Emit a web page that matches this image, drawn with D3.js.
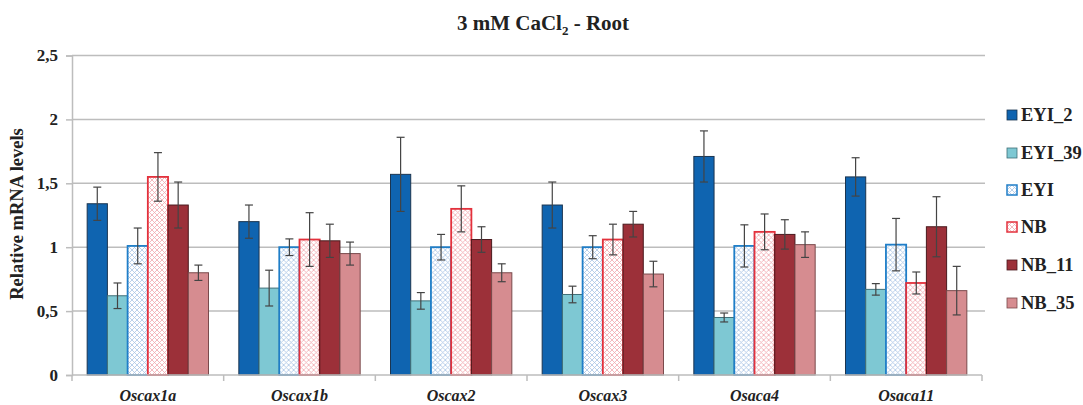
<!DOCTYPE html>
<html><head><meta charset="utf-8">
<script src="https://cdn.jsdelivr.net/npm/d3@7"></script>
<style>body{margin:0;background:#fff}svg{display:block}
svg text{font-family:"Liberation Serif","Times New Roman",serif;}
</style>
</head><body>
<svg id="chart" width="1083" height="405"></svg>
<script>
const categories = ["Oscax1a","Oscax1b","Oscax2","Oscax3","Osaca4","Osaca11"];
const seriesNames = ["EYI_2","EYI_39","EYI","NB","NB_11","NB_35"];
const EYI_2  = [1.34, 1.20, 1.57, 1.33, 1.71, 1.55];
const EYI_39 = [0.62, 0.68, 0.58, 0.63, 0.45, 0.67];
const EYI    = [1.01, 1.00, 1.00, 1.00, 1.01, 1.02];
const NB     = [1.55, 1.06, 1.30, 1.06, 1.12, 0.72];
const NB_11  = [1.33, 1.05, 1.06, 1.18, 1.10, 1.16];
const NB_35  = [0.80, 0.95, 0.80, 0.79, 1.02, 0.66];
const EYI_2_err  = [0.13, 0.13, 0.29, 0.18, 0.20, 0.15];
const EYI_39_err = [0.10, 0.14, 0.065, 0.065, 0.035, 0.045];
const EYI_err    = [0.14, 0.065, 0.10, 0.09, 0.165, 0.205];
const NB_err     = [0.19, 0.21, 0.18, 0.12, 0.14, 0.086];
const NB_11_err  = [0.18, 0.13, 0.10, 0.10, 0.115, 0.235];
const NB_35_err  = [0.06, 0.09, 0.07, 0.10, 0.10, 0.19];
const yTicks = [0, 0.5, 1, 1.5, 2, 2.5];

const values = [EYI_2, EYI_39, EYI, NB, NB_11, NB_35];
const errs = [EYI_2_err, EYI_39_err, EYI_err, NB_err, NB_11_err, NB_35_err];
const fills = ["#0f64b0", "#7ec8d3", "url(#patEYI)", "url(#patNB)", "#9c3039", "#d68c90"];
const strokes = ["#1b3550", "#3f6f78", "#1f7ec8", "#e3313c", "#4a1a1e", "#7a4a4c"];

const svg = d3.select("#chart");
const defs = svg.append("defs");
function pattern(id, color) {
  const p = defs.append("pattern").attr("id", id).attr("patternUnits", "userSpaceOnUse")
    .attr("width", 5).attr("height", 5);
  p.append("rect").attr("width", 5).attr("height", 5).attr("fill", "#fff");
  p.append("path").attr("d", "M0,0 L5,5 M5,0 L0,5").attr("stroke", color).attr("stroke-width", 0.8).attr("fill", "none");
}
pattern("patEYI", "#a9c4e4");
pattern("patNB", "#f0a8ae");

const mLeft = 72, mRight = 982, mTop = 55.5, mBottom = 375;
const x = d3.scaleBand().domain(categories).range([mLeft, mRight]).paddingInner(0).paddingOuter(0);
const inner = d3.scaleBand().domain(seriesNames).range([x.bandwidth()*0.1, x.bandwidth()*0.9]);
const y = d3.scaleLinear().domain([0, 2.5]).range([mBottom, mTop]);

// gridlines
svg.append("g").selectAll("line").data(yTicks.filter(d => d > 0)).join("line")
  .attr("x1", mLeft).attr("x2", 985).attr("y1", d => y(d)).attr("y2", d => y(d))
  .attr("stroke", "#bdbdbd").attr("stroke-width", 1.5);

// y axis
const yAxis = svg.append("g").attr("transform", `translate(${mLeft},0)`)
  .call(d3.axisLeft(y).tickValues(yTicks).tickSize(6).tickPadding(8)
    .tickFormat(d => String(d).replace(".", ",")));
yAxis.attr("font-family", null);
yAxis.select(".domain").attr("stroke", "#bdbdbd").attr("stroke-width", 1.5);
yAxis.selectAll(".tick line").attr("stroke", "#bdbdbd").attr("stroke-width", 1.5);
yAxis.selectAll("text").attr("font-weight", "bold")
  .attr("font-size", 17).attr("fill", "#222");

// bars
const groups = svg.append("g").selectAll("g").data(categories).join("g")
  .attr("transform", d => `translate(${x(d)},0)`);
groups.each(function(cat, ci) {
  const g = d3.select(this);
  seriesNames.forEach((s, si) => {
    const v = values[si][ci];
    g.append("rect").attr("x", inner(s)).attr("width", inner.bandwidth())
      .attr("y", y(v)).attr("height", y(0) - y(v))
      .attr("fill", fills[si]).attr("stroke", strokes[si])
      .attr("stroke-width", (si === 2 || si === 3) ? 1.8 : 1);
  });
  seriesNames.forEach((s, si) => {
    const v = values[si][ci], e = errs[si][ci];
    const cx = inner(s) + inner.bandwidth() / 2;
    const eg = g.append("g").attr("stroke", "#444").attr("stroke-width", 1.2);
    eg.append("line").attr("x1", cx).attr("x2", cx).attr("y1", y(v + e)).attr("y2", y(v - e));
    eg.append("line").attr("x1", cx - 4).attr("x2", cx + 4).attr("y1", y(v + e)).attr("y2", y(v + e));
    eg.append("line").attr("x1", cx - 4).attr("x2", cx + 4).attr("y1", y(v - e)).attr("y2", y(v - e));
  });
});

// x axis
svg.append("line").attr("x1", mLeft).attr("x2", mRight).attr("y1", mBottom).attr("y2", mBottom)
  .attr("stroke", "#bdbdbd").attr("stroke-width", 1.5);
svg.append("g").selectAll("line").data(categories.concat(["end"])).join("line")
  .attr("x1", (d, i) => mLeft + i * x.bandwidth()).attr("x2", (d, i) => mLeft + i * x.bandwidth())
  .attr("y1", mBottom).attr("y2", mBottom + 6).attr("stroke", "#bdbdbd").attr("stroke-width", 1.5);
svg.append("g").selectAll("text").data(categories).join("text")
  .attr("x", d => x(d) + x.bandwidth() / 2).attr("y", 401)
  .attr("text-anchor", "middle").attr("font-weight", "bold")
  .attr("font-style", "italic").attr("font-size", 16).attr("fill", "#222").text(d => d);

// y title
svg.append("text").attr("transform", "translate(23,214) rotate(-90)")
  .attr("text-anchor", "middle").attr("font-weight", "bold")
  .attr("font-size", 18.5).attr("fill", "#222").text("Relative mRNA levels");

// title
const t = svg.append("text").attr("x", 543).attr("y", 30).attr("text-anchor", "middle")
  .attr("font-weight", "bold").attr("font-size", 21).attr("fill", "#222");
t.append("tspan").text("3 mM CaCl");
t.append("tspan").attr("font-size", 13).attr("dy", 5).text("2");
t.append("tspan").attr("dy", -5).text(" - Root");

// legend
const legY = [115, 153, 190, 227, 265, 303];
const leg = svg.append("g").selectAll("g").data(seriesNames).join("g")
  .attr("transform", (d, i) => `translate(1007,${legY[i]})`);
leg.append("rect").attr("x", 0).attr("y", -5).attr("width", 10).attr("height", 10)
  .attr("fill", (d, i) => fills[i]).attr("stroke", (d, i) => strokes[i])
  .attr("stroke-width", (d, i) => (i === 2 || i === 3) ? 1.5 : 0.8);
leg.append("text").attr("x", 14).attr("y", 0).attr("dy", "0.35em")
  .attr("font-weight", "bold").attr("font-size", 18.5).attr("fill", "#222")
  .text(d => d);
</script>
</body></html>
